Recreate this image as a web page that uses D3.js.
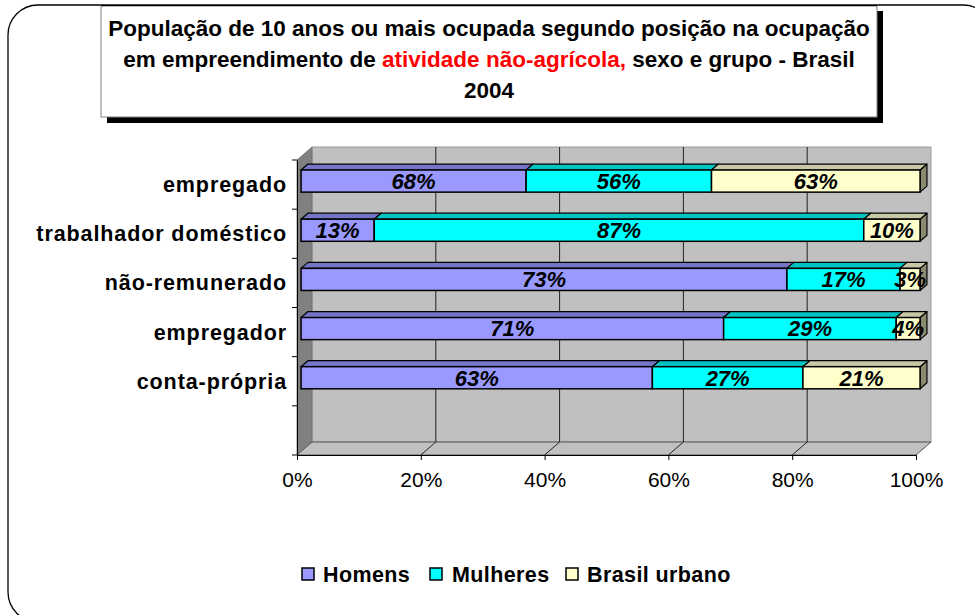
<!DOCTYPE html>
<html>
<head>
<meta charset="utf-8">
<script src="https://cdn.jsdelivr.net/npm/d3@7"></script>
<style>
  html, body { margin: 0; padding: 0; background: #fff; }
  svg { display: block; }
  text { font-family: "Liberation Sans", Arial, sans-serif; }
</style>
</head>
<body>
<svg id="chart" width="975" height="615"></svg>
<script>
// ---- data ----
const categories = ["empregado", "trabalhador doméstico", "não-remunerado", "empregador", "conta-própria"];
const homens = [68, 13, 73, 71, 63];
const mulheres = [56, 87, 17, 29, 27];
const brasilUrbano = [63, 10, 3, 4, 21];
const seriesNames = ["Homens", "Mulheres", "Brasil urbano"];
const xTickValues = [0, 0.2, 0.4, 0.6, 0.8, 1.0];
const titleLines = [
  [{t: "População de 10 anos ou mais ocupada segundo posição na ocupação"}],
  [{t: "em empreendimento de "}, {t: "atividade não-agrícola,", red: true}, {t: " sexo e grupo - Brasil"}],
  [{t: "2004"}]
];

// ---- styles ----
const colors = {
  "Homens": {front: "#9999FF", top: "#7575C8", side: "#5c5ca0"},
  "Mulheres": {front: "#00FFFF", top: "#00C4C4", side: "#009999"},
  "Brasil urbano": {front: "#FFFFCC", top: "#C8C8A6", side: "#8a8a6e"}
};

const svg = d3.select("#chart");

// frame
svg.append("rect").attr("x", 8).attr("y", 5).attr("width", 985).attr("height", 617)
  .attr("rx", 30).attr("fill", "#fff").attr("stroke", "#000").attr("stroke-width", 1.3);

// title box with shadow
svg.append("rect").attr("x", 107).attr("y", 11).attr("width", 776).attr("height", 112).attr("fill", "#000");
svg.append("rect").attr("x", 101).attr("y", 5).attr("width", 776).attr("height", 112)
  .attr("fill", "#fff").attr("stroke", "#808080").attr("stroke-width", 1);
svg.append("line").attr("x1", 101).attr("x2", 877).attr("y1", 5.5).attr("y2", 5.5).attr("stroke", "#000").attr("stroke-width", 1.3);

const title = svg.append("g");
titleLines.forEach((line, i) => {
  const t = title.append("text").attr("x", 489).attr("y", 36 + i * 31)
    .attr("text-anchor", "middle").attr("font-size", 22.5).attr("font-weight", "bold");
  line.forEach(p => t.append("tspan").text(p.t).attr("fill", p.red ? "#FF0000" : "#000"));
});

// ---- 3D plot geometry ----
const dX = 15, dY = -13;         // depth offset
const x = d3.scaleLinear().domain([0, 1]).range([297, 916]);
const y = d3.scaleBand().domain([...categories, "__blank__"]).range([160, 455]);
const yTop = 160, yBot = 455;

const plot = svg.append("g");
// back wall
plot.append("rect").attr("x", x(0) + dX).attr("y", yTop + dY).attr("width", x(1) - x(0)).attr("height", yBot - yTop)
  .attr("fill", "#C0C0C0").attr("stroke", "#9a9a9a").attr("stroke-width", 1);
// left wall
plot.append("polygon").attr("points", [[x(0), yTop], [x(0) + dX, yTop + dY], [x(0) + dX, yBot + dY], [x(0), yBot]].join(" "))
  .attr("fill", "#808080").attr("stroke", "#707070").attr("stroke-width", 0.8);
// floor
plot.append("polygon").attr("points", [[x(0), yBot], [x(0) + dX, yBot + dY], [x(1) + dX, yBot + dY], [x(1), yBot]].join(" "))
  .attr("fill", "#C0C0C0").attr("stroke", "#555").attr("stroke-width", 1);

// gridlines on back wall and floor
xTickValues.slice(1, -1).forEach(v => {
  plot.append("line").attr("x1", x(v) + dX).attr("x2", x(v) + dX).attr("y1", yTop + dY).attr("y2", yBot + dY)
    .attr("stroke", "#222").attr("stroke-width", 1);
  plot.append("line").attr("x1", x(v) + dX).attr("x2", x(v)).attr("y1", yBot + dY).attr("y2", yBot)
    .attr("stroke", "#222").attr("stroke-width", 1);
});

// axes
const xAxis = d3.axisBottom(x).tickValues(xTickValues).tickFormat(d3.format(".0%")).tickSizeOuter(0).tickSize(5).tickPadding(12);
const gx = plot.append("g").attr("transform", `translate(0,${yBot})`).call(xAxis);
gx.select(".domain").attr("stroke", "#000");
gx.selectAll(".tick line").attr("stroke", "#000");
gx.selectAll("text").attr("font-size", 21).attr("fill", "#000")
  .attr("font-family", "Liberation Sans, Arial, sans-serif");

const yAxis = d3.axisLeft(y).tickSize(0).tickFormat(d => d === "__blank__" ? "" : d).tickPadding(10);
const gy = plot.append("g").attr("transform", `translate(${x(0)},0)`).call(yAxis);
gy.select(".domain").attr("stroke", "#000");
gy.selectAll("text").attr("font-size", 21.5).attr("font-weight", "bold").attr("fill", "#000")
  .attr("letter-spacing", "0.9px").attr("dy", "0.35em")
  .attr("font-family", "Liberation Sans, Arial, sans-serif");
// category boundary ticks
const bounds = y.domain().map(d => y(d)).concat([yBot]);
gy.selectAll(".bound").data(bounds).join("line").attr("class", "bound")
  .attr("x1", -5).attr("x2", 0).attr("y1", d => d).attr("y2", d => d).attr("stroke", "#000");

// ---- bars ----
const rows = categories.map((c, i) => ({cat: c, "Homens": homens[i], "Mulheres": mulheres[i], "Brasil urbano": brasilUrbano[i]}));
const stacked = d3.stack().keys(seriesNames).offset(d3.stackOffsetExpand)(rows);

const f1 = 0.27, f2 = 0.73;
const barH = y.bandwidth() * 0.45;
const bars = plot.append("g");
rows.forEach((row, ri) => {
  const by = y(row.cat) + (y.bandwidth() - barH) / 2;
  stacked.forEach(s => {
    const seg = s[ri];
    const x0 = x(seg[0]), x1 = x(seg[1]);
    const c = colors[s.key];
    const ax = dX * f1, ay = dY * f1, bx = dX * f2, bY = dY * f2;
    bars.append("polygon").attr("points", [[x1 + ax, by + ay], [x1 + bx, by + bY], [x1 + bx, by + bY + barH], [x1 + ax, by + ay + barH]].join(" "))
      .attr("fill", c.side).attr("stroke", "#000").attr("stroke-width", 1.2).attr("stroke-linejoin", "round");
    bars.append("polygon").attr("points", [[x0 + ax, by + ay], [x0 + bx, by + bY], [x1 + bx, by + bY], [x1 + ax, by + ay]].join(" "))
      .attr("fill", c.top).attr("stroke", "#000").attr("stroke-width", 1.2).attr("stroke-linejoin", "round");
    bars.append("rect").attr("x", x0 + ax).attr("y", by + ay).attr("width", x1 - x0).attr("height", barH)
      .attr("fill", c.front).attr("stroke", "#000").attr("stroke-width", 1.5);
  });
});
// value labels
const labels = plot.append("g");
rows.forEach((row, ri) => {
  const by = y(row.cat) + (y.bandwidth() - barH) / 2;
  stacked.forEach(s => {
    const seg = s[ri];
    const cx = (x(seg[0]) + x(seg[1])) / 2 + dX * f1;
    labels.append("text").attr("x", cx).attr("y", by + dY * f1 + barH / 2).attr("dy", "0.36em")
      .attr("text-anchor", "middle").attr("font-size", 22).attr("font-weight", "bold").attr("font-style", "italic")
      .text(row[s.key] + "%");
  });
});

// ---- legend ----
const legendItems = [
  {name: "Homens", sx: 302, tx: 323},
  {name: "Mulheres", sx: 430, tx: 452},
  {name: "Brasil urbano", sx: 566, tx: 587}
];
const lg = svg.append("g");
legendItems.forEach(it => {
  lg.append("rect").attr("x", it.sx).attr("y", 568).attr("width", 12).attr("height", 12)
    .attr("fill", colors[it.name].front).attr("stroke", "#000").attr("stroke-width", 1.5);
  lg.append("text").attr("x", it.tx).attr("y", 574).attr("dy", "0.36em").attr("font-size", 21.5)
    .attr("font-weight", "bold").attr("letter-spacing", "0.4px").text(it.name);
});
</script>
</body>
</html>
